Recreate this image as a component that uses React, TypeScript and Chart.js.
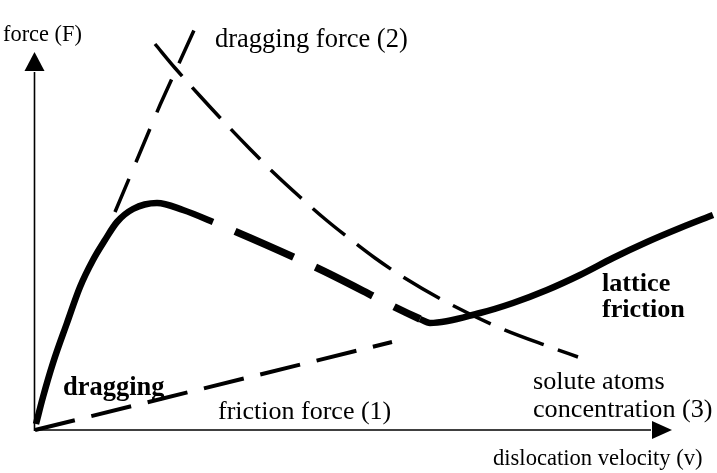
import React, { useEffect, useRef } from "react";
import { Chart, registerables } from "chart.js";

Chart.register(...registerables);

// Schematic values (arbitrary units): v = dislocation velocity, F = force
const frictionV = [0, 357];
const frictionF = [0, 88];

const draggingV = [80, 125, 160];
const draggingF = [218, 325, 402];

const soluteV = [120, 140, 165, 190, 215, 240, 265, 290, 315, 340, 365, 415, 465, 515, 543];
const soluteF = [386, 362, 334, 307, 281, 256, 233, 211, 191, 172, 155, 126, 102, 83, 73];

const totalV = [1, 8, 18, 32, 45, 58, 70, 82, 98, 122, 148, 178, 280, 385, 395, 445, 478, 512, 545, 578, 612, 645, 678];
const totalF = [6, 33, 67, 107, 143, 170, 190, 208, 221, 227, 220, 208, 163, 111, 107, 117, 127, 140, 155, 172, 188, 202, 215];
const totalDashFrom = 11; // index where the dashed part of the thick curve starts
const totalDashTo = 13; // index where it ends

const V_MAX = 680;
const F_MAX = 430;

const FONT = '"Liberation Serif", "Times New Roman", serif';

const zip = (xs: number[], ys: number[]) => xs.map((x, i) => ({ x, y: ys[i] }));

const axesAndLabels = {
  id: "axesAndLabels",
  beforeDatasetsDraw(chart: any) {
    const { ctx, scales } = chart;
    const x = scales.x;
    const y = scales.y;
    const ox = x.getPixelForValue(0) - 0.5;
    const oy = y.getPixelForValue(0);
    ctx.save();
    ctx.strokeStyle = "#000";
    ctx.fillStyle = "#000";
    ctx.lineWidth = 1.6;
    // y axis
    const yBase = y.getPixelForValue(359);
    const yTip = y.getPixelForValue(378);
    ctx.beginPath();
    ctx.moveTo(ox, oy + 1);
    ctx.lineTo(ox, yBase + 1);
    ctx.stroke();
    ctx.beginPath();
    ctx.moveTo(ox, yTip);
    ctx.lineTo(ox - 10, yBase);
    ctx.lineTo(ox + 10, yBase);
    ctx.closePath();
    ctx.fill();
    // x axis
    const xBase = x.getPixelForValue(617);
    const xTip = x.getPixelForValue(637);
    ctx.beginPath();
    ctx.moveTo(ox, oy);
    ctx.lineTo(xBase - 1, oy);
    ctx.stroke();
    ctx.beginPath();
    ctx.moveTo(xTip, oy);
    ctx.lineTo(xBase, oy - 9);
    ctx.lineTo(xBase, oy + 9);
    ctx.closePath();
    ctx.fill();
    ctx.restore();
  },
  afterDatasetsDraw(chart: any) {
    const { ctx, scales } = chart;
    const x = scales.x;
    const y = scales.y;
    const labels = [
      { t: "force (F)", v: -32, f: 389, size: 22.4, bold: false },
      { t: "dragging force (2)", v: 180, f: 383, size: 26.5, bold: false },
      { t: "dragging", v: 28, f: 35, size: 26.5, bold: true },
      { t: "friction force (1)", v: 183, f: 11, size: 26, bold: false },
      { t: "lattice", v: 567, f: 139, size: 26.2, bold: true },
      { t: "friction", v: 567, f: 113, size: 26.2, bold: true },
      { t: "solute atoms", v: 498, f: 41, size: 26.2, bold: false },
      { t: "concentration (3)", v: 498, f: 13, size: 26.2, bold: false },
      { t: "dislocation velocity (v)", v: 458, f: -35, size: 22.6, bold: false },
    ];
    ctx.save();
    ctx.fillStyle = "#000";
    ctx.textAlign = "left";
    ctx.textBaseline = "alphabetic";
    for (const l of labels) {
      ctx.font = `${l.bold ? "bold " : ""}${l.size}px ${FONT}`;
      ctx.fillText(l.t, x.getPixelForValue(l.v), y.getPixelForValue(l.f));
    }
    ctx.restore();
  },
};

export default function App() {
  const ref = useRef<HTMLCanvasElement | null>(null);

  useEffect(() => {
    if (!ref.current) return;
    const chart = new Chart(ref.current, {
      type: "scatter",
      data: {
        datasets: [
          {
            label: "friction force (1)",
            data: zip(frictionV, frictionF),
            showLine: true,
            borderColor: "#000",
            borderWidth: 4,
            borderDash: [41, 17],
            pointRadius: 0,
            tension: 0,
            clip: false,
          },
          {
            label: "dragging force (2)",
            data: zip(draggingV, draggingF),
            showLine: true,
            borderColor: "#000",
            borderWidth: 3.5,
            borderDash: [36, 18],
            pointRadius: 0,
            tension: 0,
            clip: false,
          },
          {
            label: "solute atoms concentration (3)",
            data: zip(soluteV, soluteF),
            showLine: true,
            borderColor: "#000",
            borderWidth: 3.5,
            borderDash: [42, 15],
            pointRadius: 0,
            cubicInterpolationMode: "monotone",
            clip: false,
          },
          {
            label: "total force",
            data: zip(totalV, totalF),
            showLine: true,
            borderColor: "#000",
            borderWidth: 6.5,
            pointRadius: 0,
            cubicInterpolationMode: "monotone",
            clip: false,
            segment: {
              borderDash: (c: any) =>
                c.p0DataIndex >= totalDashFrom && c.p1DataIndex <= totalDashTo ? [64, 24] : [],
              borderDashOffset: (c: any) =>
                c.p0DataIndex >= totalDashFrom && c.p1DataIndex <= totalDashTo ? 64 : 0,
              borderWidth: (c: any) =>
                c.p0DataIndex >= totalDashFrom && c.p1DataIndex <= totalDashTo ? 7.5 : 6.5,
            },
          },
        ],
      },
      options: {
        animation: false,
        responsive: false,
        events: [],
        layout: { padding: { left: 35, right: 2, top: 0, bottom: 43 } },
        scales: {
          x: { type: "linear", min: 0, max: V_MAX, display: false },
          y: { type: "linear", min: 0, max: F_MAX, display: false },
        },
        plugins: {
          legend: { display: false },
          tooltip: { enabled: false },
        },
      },
      plugins: [axesAndLabels],
    } as any);
    return () => chart.destroy();
  }, []);

  return (
    <div style={{ position: "absolute", left: 0, top: 0, width: 717, height: 473, background: "#fff" }}>
      <canvas ref={ref} width={717} height={473} style={{ display: "block" }} />
    </div>
  );
}
